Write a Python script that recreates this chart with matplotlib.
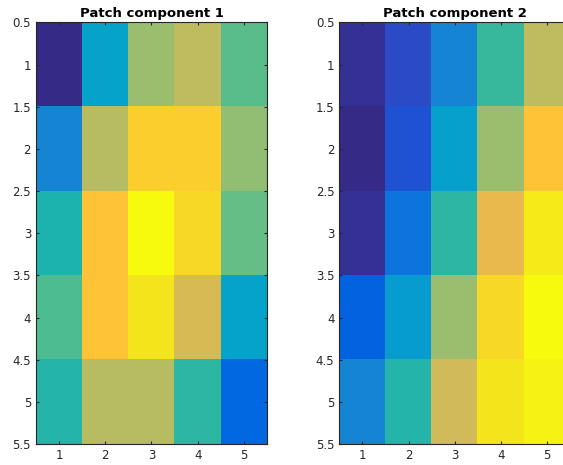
import numpy as np
import matplotlib
matplotlib.use("Agg")
import matplotlib.pyplot as plt
from matplotlib.colors import ListedColormap

# MATLAB parula (64 entries)
parula_data = [
    [0.2081, 0.1663, 0.5292], [0.2116, 0.1898, 0.5777], [0.2123, 0.2138, 0.6270],
    [0.2081, 0.2386, 0.6771], [0.1959, 0.2645, 0.7279], [0.1707, 0.2919, 0.7792],
    [0.1253, 0.3242, 0.8303], [0.0591, 0.3598, 0.8683], [0.0117, 0.3875, 0.8820],
    [0.0060, 0.4086, 0.8828], [0.0165, 0.4266, 0.8786], [0.0329, 0.4430, 0.8720],
    [0.0498, 0.4586, 0.8641], [0.0629, 0.4737, 0.8554], [0.0723, 0.4887, 0.8467],
    [0.0779, 0.5040, 0.8384], [0.0793, 0.5200, 0.8312], [0.0749, 0.5375, 0.8263],
    [0.0641, 0.5570, 0.8240], [0.0488, 0.5772, 0.8228], [0.0343, 0.5966, 0.8199],
    [0.0265, 0.6137, 0.8135], [0.0239, 0.6287, 0.8038], [0.0231, 0.6418, 0.7913],
    [0.0228, 0.6535, 0.7768], [0.0267, 0.6642, 0.7607], [0.0384, 0.6743, 0.7436],
    [0.0590, 0.6838, 0.7254], [0.0843, 0.6928, 0.7062], [0.1133, 0.7015, 0.6859],
    [0.1453, 0.7098, 0.6646], [0.1801, 0.7177, 0.6424], [0.2178, 0.7250, 0.6193],
    [0.2586, 0.7317, 0.5954], [0.3022, 0.7376, 0.5712], [0.3482, 0.7424, 0.5473],
    [0.3953, 0.7459, 0.5244], [0.4420, 0.7481, 0.5033], [0.4871, 0.7491, 0.4840],
    [0.5300, 0.7491, 0.4661], [0.5709, 0.7485, 0.4494], [0.6099, 0.7473, 0.4337],
    [0.6473, 0.7456, 0.4188], [0.6834, 0.7435, 0.4044], [0.7184, 0.7411, 0.3905],
    [0.7525, 0.7384, 0.3768], [0.7858, 0.7356, 0.3633], [0.8185, 0.7327, 0.3498],
    [0.8507, 0.7299, 0.3360], [0.8824, 0.7274, 0.3217], [0.9139, 0.7258, 0.3063],
    [0.9450, 0.7261, 0.2886], [0.9739, 0.7314, 0.2666], [0.9938, 0.7455, 0.2403],
    [0.9990, 0.7653, 0.2164], [0.9955, 0.7861, 0.1967], [0.9880, 0.8066, 0.1794],
    [0.9789, 0.8271, 0.1633], [0.9697, 0.8481, 0.1475], [0.9626, 0.8705, 0.1309],
    [0.9589, 0.8949, 0.1132], [0.9598, 0.9218, 0.0948], [0.9661, 0.9514, 0.0755],
    [0.9763, 0.9831, 0.0538],
]
parula = ListedColormap(parula_data, name="parula")

# values (scaled 0..1 per panel)
comp1 = [
    [0.00, 0.37, 0.65, 0.71, 0.55],
    [0.25, 0.70, 0.89, 0.88, 0.63],
    [0.46, 0.85, 1.00, 0.92, 0.57],
    [0.54, 0.85, 0.94, 0.755, 0.37],
    [0.48, 0.70, 0.70, 0.49, 0.15],
]
comp2 = [
    [0.03, 0.08, 0.25, 0.51, 0.71],
    [0.00, 0.095, 0.35, 0.65, 0.85],
    [0.03, 0.20, 0.49, 0.79, 0.96],
    [0.14, 0.33, 0.65, 0.92, 1.00],
    [0.26, 0.48, 0.745, 0.94, 0.98],
]
titles = ["Patch component 1", "Patch component 2"]
xticks = [1, 2, 3, 4, 5]
yticks = [0.5, 1, 1.5, 2, 2.5, 3, 3.5, 4, 4.5, 5, 5.5]

plt.rcParams['font.family'] = 'DejaVu Sans'
fig = plt.figure(figsize=(5.63, 4.65), dpi=100)

txt = (0.15, 0.15, 0.15)
positions = [[0.0639, 0.0452, 0.4103, 0.9065], [0.6027, 0.0452, 0.4103, 0.9065]]

for pos, data, title in zip(positions, [comp1, comp2], titles):
    ax = fig.add_axes(pos)
    ax.imshow(np.array(data), cmap=parula, vmin=0, vmax=1, aspect='auto',
              interpolation='nearest', extent=(0.5, 5.5, 5.5, 0.5))
    ax.set_xlim(0.5, 5.5)
    ax.set_ylim(5.5, 0.5)
    ax.set_xticks(xticks)
    ax.set_yticks(yticks)
    ax.set_yticklabels([f"{v:g}" for v in yticks])
    ax.tick_params(direction='in', top=True, right=True, length=2.5, width=0.8,
                   labelsize=8.5, colors=txt, pad=3.5)
    for s in ax.spines.values():
        s.set_color(txt)
        s.set_linewidth(0.8)
    ax.set_title(title, fontsize=9.5, fontweight='bold', pad=4)

fig.savefig("out.png", dpi=100)
